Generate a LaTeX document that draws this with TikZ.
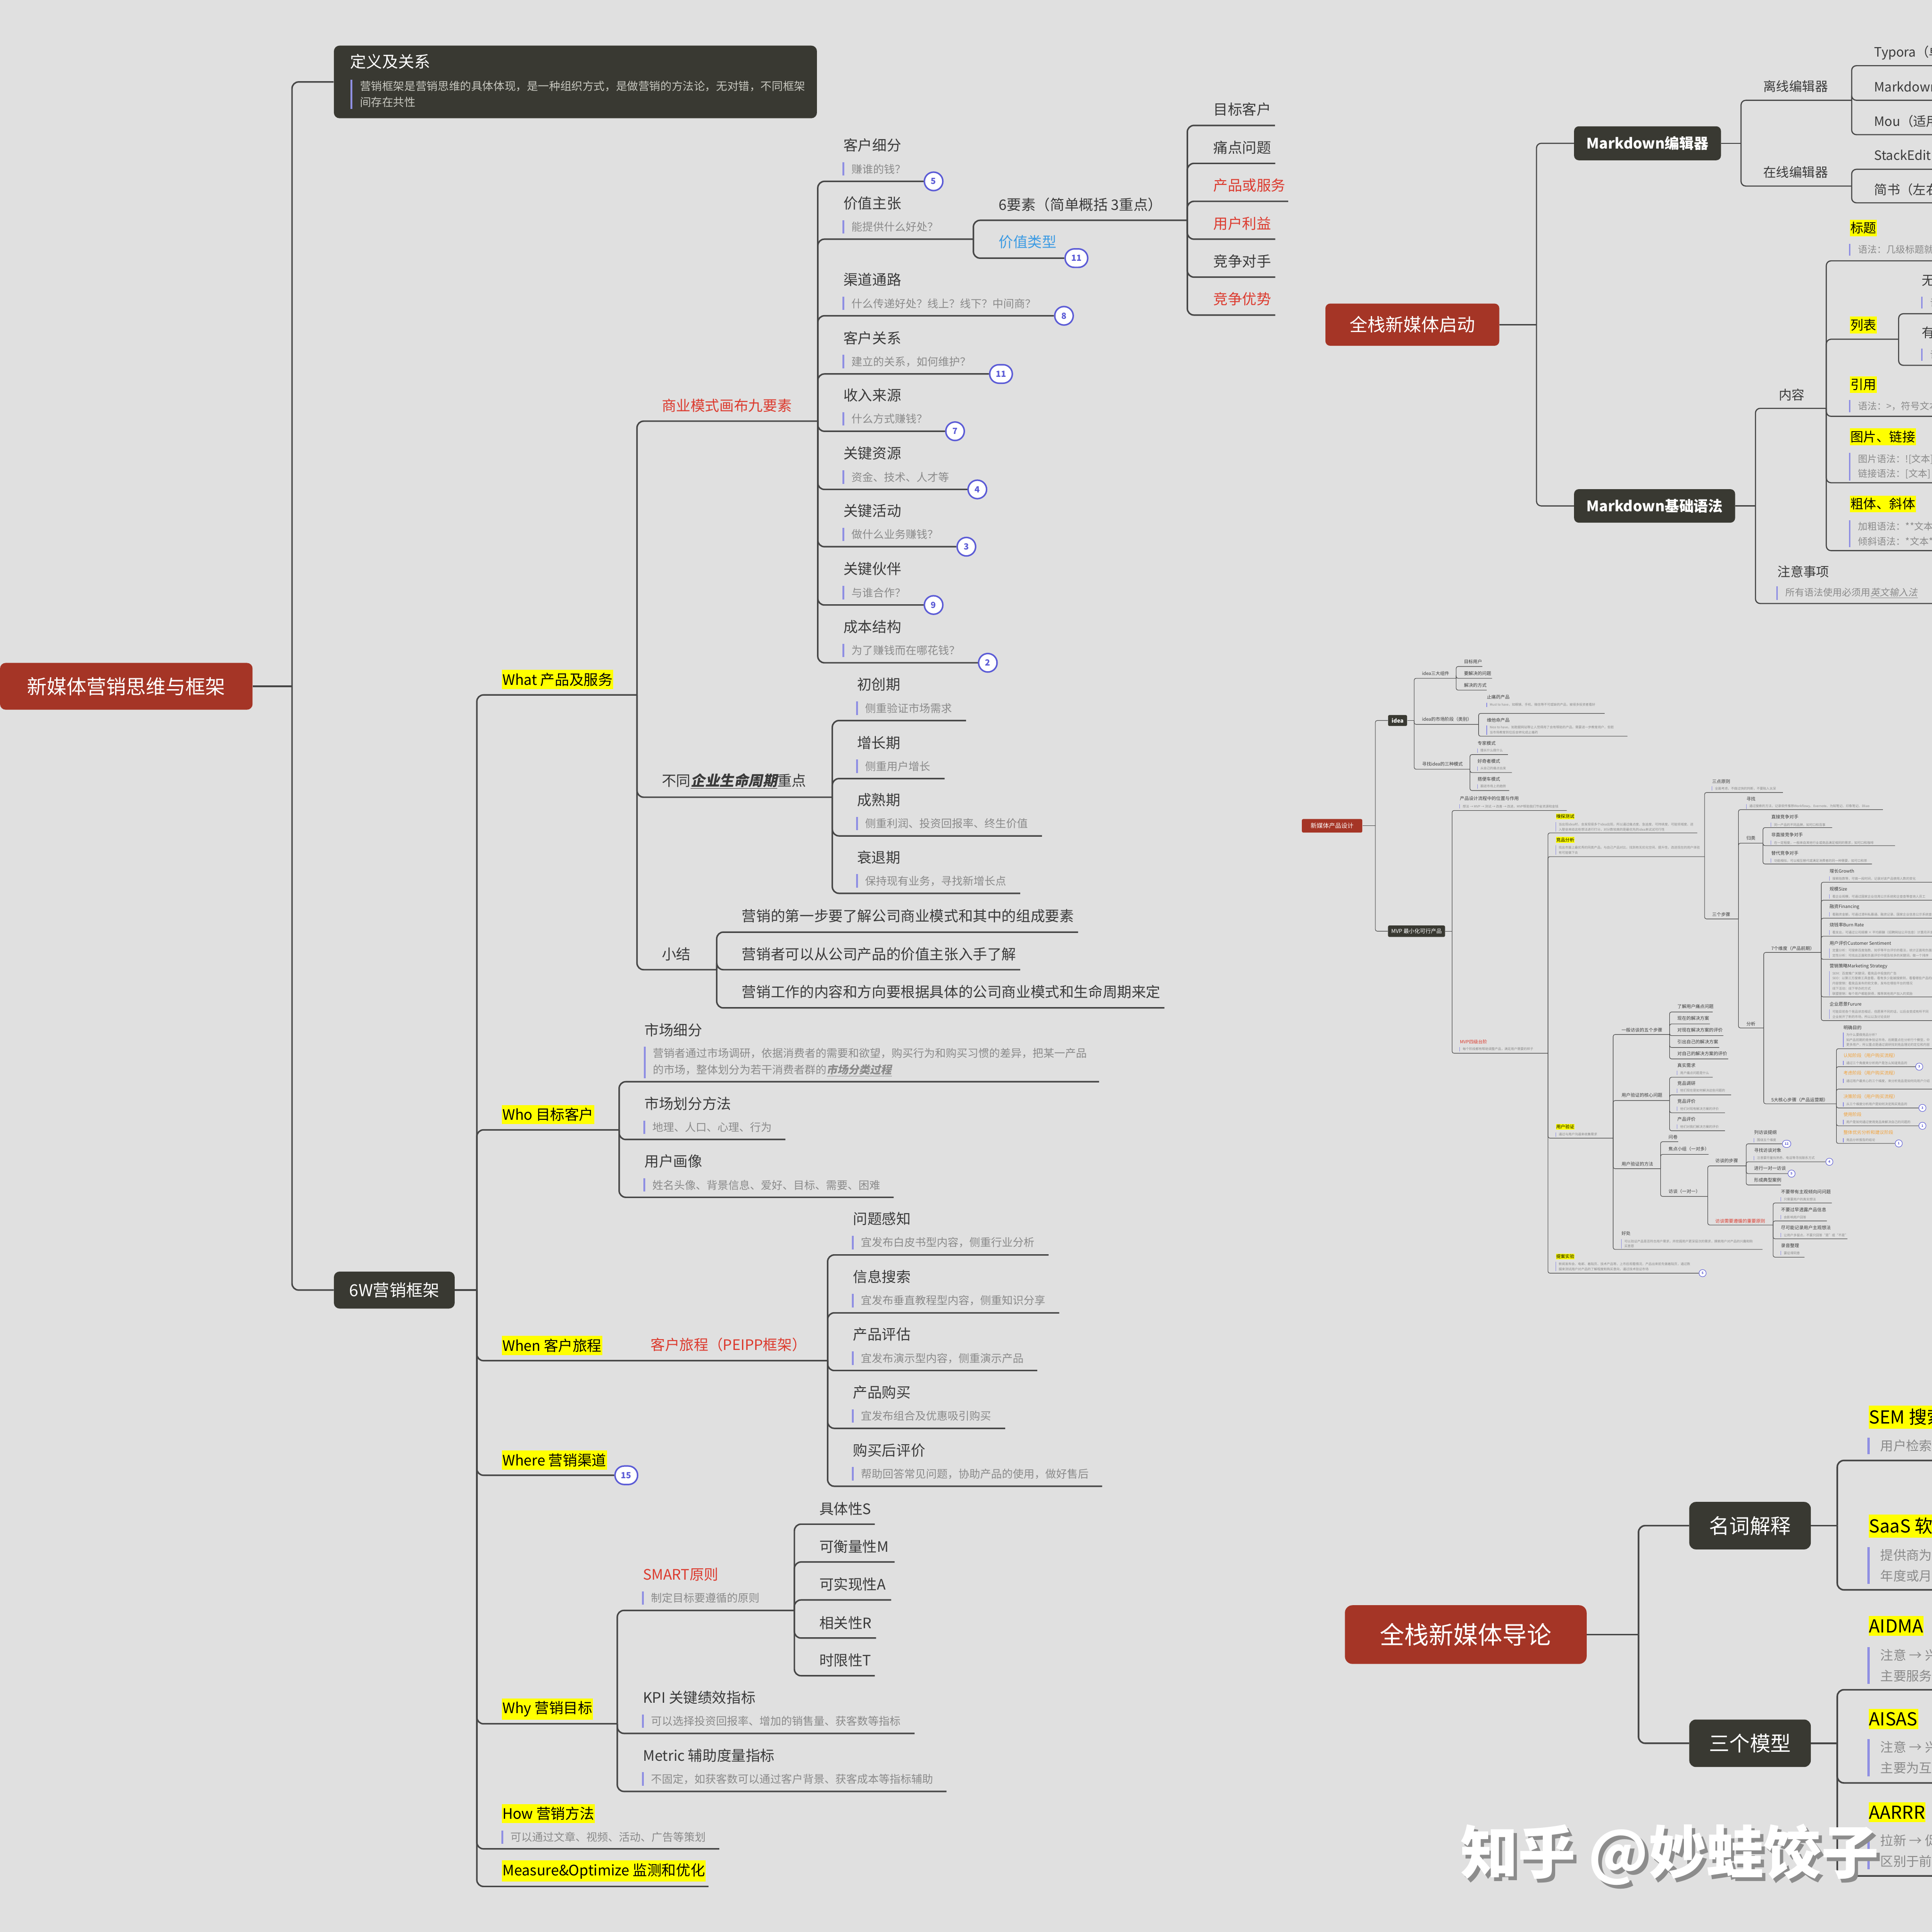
\documentclass[tikz,border=0pt]{standalone}
\usepackage{fontspec}
\setmainfont{Noto Sans CJK SC}
\newfontfamily\myslant{Noto Sans CJK SC}[FakeSlant=0.2]
\definecolor{bgc}{HTML}{E0E0E0}
\definecolor{lc}{HTML}{464646}
\definecolor{tc}{HTML}{3A3A3A}
\definecolor{ncol}{HTML}{8A8A8A}
\definecolor{barc}{HTML}{8F8FE3}
\definecolor{boxd}{HTML}{393932}
\definecolor{boxr}{HTML}{A53526}
\definecolor{redt}{HTML}{DC3A2E}
\definecolor{bluet}{HTML}{3C9BE3}
\definecolor{orgt}{HTML}{F2A23A}
\definecolor{bdgc}{HTML}{5B5BD6}
\definecolor{hlc}{HTML}{FFFF00}
\definecolor{defn}{HTML}{C8C8C0}
\definecolor{wmsh}{HTML}{8C8C8C}
\newcommand\mfT{\fontsize{15.3pt}{18pt}\selectfont}
\newcommand\mfN{\fontsize{11.5pt}{17.5pt}\selectfont}
\newcommand\mfB{\fontsize{9pt}{10pt}\selectfont}
\newcommand\mfRoot{\fontsize{21pt}{24pt}\selectfont}
\newcommand\mfDefT{\fontsize{17pt}{20pt}\selectfont}
\newcommand\mfDefN{\fontsize{11.8pt}{17pt}\selectfont}
\newcommand\mfSix{\fontsize{17.5pt}{20pt}\selectfont}
\newcommand\mfRS{\fontsize{19pt}{22pt}\selectfont}
\newcommand\mfMD{\fontsize{15.4pt}{18pt}\selectfont}
\newcommand\mfRT{\fontsize{13.7pt}{16pt}\selectfont}
\newcommand\mfRN{\fontsize{10pt}{15.8pt}\selectfont}
\newcommand\mfBR{\fontsize{26pt}{30pt}\selectfont}
\newcommand\mfBB{\fontsize{21.7pt}{25pt}\selectfont}
\newcommand\mfBT{\fontsize{19pt}{22pt}\selectfont}
\newcommand\mfBN{\fontsize{13.7pt}{22pt}\selectfont}
\newcommand\mfWM{\fontsize{61pt}{70pt}\selectfont}
\newcommand\mfST{\fontsize{4.8pt}{6pt}\selectfont}
\newcommand\mfSN{\fontsize{3.4pt}{5.4pt}\selectfont}
\newcommand\mfSR{\fontsize{6.5pt}{8pt}\selectfont}
\newcommand\mfSB{\fontsize{5.8pt}{7pt}\selectfont}
\newcommand\mfSBd{\fontsize{3.4pt}{4pt}\selectfont}
\tikzset{
 conn/.style={draw=lc,line width=1.6pt,rounded corners=7pt},
 rconn/.style={draw=lc,line width=1.2pt,rounded corners=5pt},
 bconn/.style={draw=lc,line width=1.7pt,rounded corners=7pt},
 sconn/.style={draw=lc,line width=0.55pt,rounded corners=2pt},
 bar/.style={draw=barc,line width=2pt},
 rbar/.style={draw=barc,line width=1.8pt},
 bbar/.style={draw=barc,line width=2.4pt},
 sbar/.style={draw=barc,line width=0.6pt},
 ttl/.style={anchor=west,inner sep=0pt,text=tc,font=\mfT},
 hlt/.style={ttl,fill=hlc,inner xsep=0.8pt,inner ysep=3pt,text=black},
 nt/.style={anchor=west,inner xsep=0pt,inner ysep=1.5pt,align=left,text=ncol,font=\mfN},
 rttl/.style={anchor=west,inner sep=0pt,text=tc,font=\mfRT},
 rhl/.style={rttl,fill=hlc,inner xsep=0.6pt,inner ysep=2.5pt,text=black},
 rnt/.style={nt,font=\mfRN},
 bhl/.style={anchor=west,inner xsep=0.6pt,inner ysep=3.5pt,fill=hlc,text=black,font=\mfBT},
 bnt/.style={nt,font=\mfBN,inner ysep=2pt},
 sttl/.style={anchor=west,inner sep=0pt,text=tc,font=\mfST},
 shl/.style={sttl,fill=hlc,inner xsep=0.3pt,inner ysep=0.8pt,text=black},
 snt/.style={nt,font=\mfSN,inner ysep=0.5pt},
 dbox/.style={fill=boxd,rounded corners=6pt,text=white,inner sep=0pt},
 rbox/.style={fill=boxr,rounded corners=6pt,text=white,inner sep=0pt},
 bdg/.style={draw=bdgc,fill=white,line width=1.6pt,text=bdgc,font=\mfB\bfseries,minimum size=19.6pt,rounded corners=9.8pt,inner sep=0pt},
 sbdg/.style={draw=bdgc,fill=white,line width=0.5pt,text=bdgc,font=\mfSBd\bfseries,minimum size=7.6pt,rounded corners=3.8pt,inner sep=0pt},
}
\newcommand\myNT[4]{\node[nt] (#1) at ({#2},{#3}) {#4};\draw[bar] ([xshift=-8.5pt]#1.north west) -- ([xshift=-8.5pt]#1.south west);}
\newcommand\myRN[4]{\node[rnt] (#1) at ({#2},{#3}) {#4};\draw[rbar] ([xshift=-8.9pt]#1.north west) -- ([xshift=-8.9pt]#1.south west);}
\newcommand\myBN[4]{\node[bnt] (#1) at ({#2},{#3}) {#4};\draw[bbar] ([xshift=-12.5pt]#1.north west) -- ([xshift=-12.5pt]#1.south west);}
\newcommand\mySN[4]{\node[snt] (#1) at ({#2},{#3}) {#4};\draw[sbar] ([xshift=-3pt]#1.north west) -- ([xshift=-3pt]#1.south west);}
\newcommand\myItem[6][]{\node[ttl,#1] (#2) at ({#3},{#4-29.2}) {#5};\myNT{#2n}{#3+6.6}{#4-10}{#6}}
\begin{document}
\begin{tikzpicture}[x=1.306pt,y=-1.306pt]
\useasboundingbox (0,0) rectangle (1568,1568);
\fill[bgc] (0,0) rectangle (1568,1568);
\clip (0,0) rectangle (1568,1568);

% ================= LEFT MAP =================
\node[rbox,minimum width=267.7pt,minimum height=49.6pt,font=\mfRoot] (root) at (102.5,557) {新媒体营销思维与框架};
\coordinate (jR) at (237,557);
\draw[conn] (root.east) -- (jR);
\node[dbox,minimum width=512pt,minimum height=77pt] (def) at (467,66.5) {};
\node[anchor=west,inner sep=0pt,text=white,font=\mfDefT] (defT) at (284,50) {定义及关系};
\node[nt,text=defn,font=\mfDefN] (defN) at (292,76.5) {营销框架是营销思维的具体体现，是一种组织方式，是做营销的方法论，无对错，不同框架\\间存在共性};
\draw[bar] ([xshift=-9pt]defN.north west) -- ([xshift=-9pt]defN.south west);
\draw[conn] (jR) |- (def.west);
\node[dbox,minimum width=128pt,minimum height=39.2pt,font=\mfSix] (six) at (320,1047) {6W营销框架};
\draw[conn] (jR) |- (six.west);
\coordinate (j6) at (387,1047);
\draw[conn] (six.east) -- (j6);

% What
\node[hlt] (what) at (407,551.5) {What 产品及服务};
\coordinate (jWhat) at (517,564);
\draw[conn] (j6) |- (jWhat);
\node[ttl,text=redt] (bmc) at (537,329) {商业模式画布九要素};
\coordinate (jBmc) at (663.7,341.8);
\draw[conn] (jWhat) |- (jBmc);

\myItem{ka}{684.4}{147.2}{客户细分}{赚谁的钱？}
\node[bdg] (b1) at (757.7,147.2) {5};
\draw[conn] (jBmc) |- (b1.west);
\myItem{kb}{684.4}{194.1}{价值主张}{能提供什么好处？}
\coordinate (jVP) at (790,194.1);
\draw[conn] (jBmc) |- (jVP);
\node[ttl] (vpa) at (810.5,166) {6要素（简单概括 3重点）};
\coordinate (j6e) at (963.6,178.8);
\draw[conn] (jVP) |- (j6e);
\node[ttl,text=bluet] (vpb) at (810.5,196.2) {价值类型};
\node[bdg,minimum width=24pt] (b11a) at (873.6,209.5) {11};
\draw[conn] (jVP) |- (b11a.west);
\node[ttl] (ea) at (984.6,88.6) {目标客户}; \coordinate (eae) at (1034.8,101.8); \draw[conn] (j6e) |- (eae);
\node[ttl] (eb) at (984.6,119.6) {痛点问题}; \coordinate (ebe) at (1035,132.6); \draw[conn] (j6e) |- (ebe);
\node[ttl,text=redt] (ec) at (984.6,150.6) {产品或服务}; \coordinate (ece) at (1045.5,163.4); \draw[conn] (j6e) |- (ece);
\node[ttl,text=redt] (ed) at (984.6,181.3) {用户利益}; \coordinate (ede) at (1035,194.1); \draw[conn] (j6e) |- (ede);
\node[ttl] (ee) at (984.6,212) {竞争对手}; \coordinate (eee) at (1035,224.9); \draw[conn] (j6e) |- (eee);
\node[ttl,text=redt] (ef) at (984.6,242.8) {竞争优势}; \coordinate (efe) at (1035,255.7); \draw[conn] (j6e) |- (efe);

\myItem{kc}{684.4}{256.3}{渠道通路}{什么传递好处？线上？线下？中间商？}
\node[bdg] (b3) at (863.5,256.3) {8}; \draw[conn] (jBmc) |- (b3.west);
\myItem{kd}{684.4}{303.5}{客户关系}{建立的关系，如何维护？}
\node[bdg,minimum width=24pt] (b4) at (812.4,303.5) {11}; \draw[conn] (jBmc) |- (b4.west);
\myItem{ke}{684.4}{350}{收入来源}{什么方式赚钱？}
\node[bdg] (b5) at (775.1,350) {7}; \draw[conn] (jBmc) |- (b5.west);
\myItem{kf}{684.4}{397.2}{关键资源}{资金、技术、人才等}
\node[bdg] (b6) at (793.2,397.2) {4}; \draw[conn] (jBmc) |- (b6.west);
\myItem{kg}{684.4}{443.7}{关键活动}{做什么业务赚钱？}
\node[bdg] (b7) at (784.3,443.7) {3}; \draw[conn] (jBmc) |- (b7.west);
\myItem{kh}{684.4}{491}{关键伙伴}{与谁合作？}
\node[bdg] (b8) at (757.7,491) {9}; \draw[conn] (jBmc) |- (b8.west);
\myItem{ki}{684.4}{537.9}{成本结构}{为了赚钱而在哪花钱？}
\node[bdg] (b9) at (801.7,537.9) {2}; \draw[conn] (jBmc) |- (b9.west);

\node[ttl] (life) at (537,634) {不同{\myslant\bfseries\underline{企业生命周期}}重点};
\coordinate (jLife) at (675.5,647);
\draw[conn] (jWhat) |- (jLife);
\myItem{la}{695.5}{584.8}{初创期}{侧重验证市场需求}
\coordinate (lae) at (784,584.8); \draw[conn] (jLife) |- (lae);
\myItem{lb}{695.5}{631.9}{增长期}{侧重用户增长}
\coordinate (lbe) at (766.6,631.9); \draw[conn] (jLife) |- (lbe);
\myItem{lc}{695.5}{678.4}{成熟期}{侧重利润、投资回报率、终生价值}
\coordinate (lce) at (845.7,678.4); \draw[conn] (jLife) |- (lce);
\myItem{ld}{695.5}{725}{衰退期}{保持现有业务，寻找新增长点}
\coordinate (lde) at (828,725); \draw[conn] (jLife) |- (lde);

\node[ttl] (sum) at (537,774.5) {小结};
\coordinate (jSum) at (581.7,787);
\draw[conn] (jWhat) |- (jSum);
\node[ttl] (sa) at (602,743.5) {营销的第一步要了解公司商业模式和其中的组成要素};
\coordinate (sae) at (875,756.5); \draw[conn] (jSum) |- (sae);
\node[ttl] (sb) at (602,774.5) {营销者可以从公司产品的价值主张入手了解};
\coordinate (sbe) at (828,787); \draw[conn] (jSum) |- (sbe);
\node[ttl] (sc) at (602,805) {营销工作的内容和方向要根据具体的公司商业模式和生命周期来定};
\coordinate (sce) at (945,818); \draw[conn] (jSum) |- (sce);

% Who
\node[hlt] (who) at (407,904.5) {Who 目标客户};
\coordinate (jWho) at (502.5,917);
\draw[conn] (j6) |- (jWho);
\node[ttl] (wa) at (523,835.8) {市场细分};
\myNT{wan}{529.9}{862.3}{营销者通过市场调研，依据消费者的需要和欲望，购买行为和购买习惯的差异，把某一产品\\的市场，整体划分为若干消费者群的{\myslant\bfseries\underline{市场分类过程}}}
\coordinate (wae) at (892,877.9); \draw[conn] (jWho) |- (wae);
\myItem{wb}{523}{924.8}{市场划分方法}{地理、人口、心理、行为}
\coordinate (wbe) at (637.4,924.8); \draw[conn] (jWho) |- (wbe);
\myItem{wc}{523}{971.7}{用户画像}{姓名头像、背景信息、爱好、目标、需要、困难}
\coordinate (wce) at (725.3,971.7); \draw[conn] (jWho) |- (wce);

% When
\node[hlt] (when) at (407,1092) {When 客户旅程};
\node[ttl,text=redt] (peipp) at (528,1091.5) {客户旅程（PEIPP框架）};
\coordinate (jWhen) at (671.7,1104.3);
\draw[conn] (j6) |- (jWhen);
\myItem{pa}{692.2}{1018.5}{问题感知}{宜发布白皮书型内容，侧重行业分析}
\coordinate (pae) at (851,1018.5); \draw[conn] (jWhen) |- (pae);
\myItem{pb}{692.2}{1065.5}{信息搜索}{宜发布垂直教程型内容，侧重知识分享}
\coordinate (pbe) at (859.6,1065.5); \draw[conn] (jWhen) |- (pbe);
\myItem{pc}{692.2}{1112.3}{产品评估}{宜发布演示型内容，侧重演示产品}
\coordinate (pce) at (841.8,1112.3); \draw[conn] (jWhen) |- (pce);
\myItem{pd}{692.2}{1159.2}{产品购买}{宜发布组合及优惠吸引购买}
\coordinate (pde) at (815.8,1159.2); \draw[conn] (jWhen) |- (pde);
\myItem{pe}{692.2}{1206.2}{购买后评价}{帮助回答常见问题，协助产品的使用，做好售后}
\coordinate (pee) at (894.5,1206.2); \draw[conn] (jWhen) |- (pee);

% Where
\node[hlt] (where) at (407,1185) {Where 营销渠道};
\node[bdg,minimum width=24pt] (b15) at (508.3,1197.3) {15};
\draw[conn] (j6) |- (b15.west);

% Why
\node[hlt] (why) at (407,1387) {Why 营销目标};
\coordinate (jWhy) at (501,1399);
\draw[conn] (j6) |- (jWhy);
\myItem[text=redt]{ya}{521.7}{1307}{SMART原则}{制定目标要遵循的原则}
\coordinate (jSM) at (644.7,1307); \draw[conn] (jWhy) |- (jSM);
\node[ttl] (ma) at (664.8,1224.5) {具体性S}; \coordinate (mae) at (710,1237); \draw[conn] (jSM) |- (mae);
\node[ttl] (mb) at (664.8,1255.3) {可衡量性M}; \coordinate (mbe) at (726,1267.7); \draw[conn] (jSM) |- (mbe);
\node[ttl] (mc) at (664.8,1285.8) {可实现性A}; \coordinate (mce) at (723.3,1298.5); \draw[conn] (jSM) |- (mce);
\node[ttl] (md) at (664.8,1317) {相关性R}; \coordinate (mde) at (711,1329.4); \draw[conn] (jSM) |- (mde);
\node[ttl] (me) at (664.8,1347.6) {时限性T}; \coordinate (mee) at (710,1360); \draw[conn] (jSM) |- (mee);
\myItem{yb}{521.7}{1406.8}{KPI 关键绩效指标}{可以选择投资回报率、增加的销售量、获客数等指标}
\coordinate (ybe) at (742.2,1406.8); \draw[conn] (jWhy) |- (ybe);
\myItem{yc}{521.7}{1453.9}{Metric 辅助度量指标}{不固定，如获客数可以通过客户背景、获客成本等指标辅助}
\coordinate (yce) at (768.2,1453.9); \draw[conn] (jWhy) |- (yce);

% How / Measure
\node[hlt] (how) at (407,1472) {How 营销方法};
\myNT{hown}{414.2}{1491}{可以通过文章、视频、活动、广告等策划}
\coordinate (howe) at (583.7,1500.5); \draw[conn] (j6) |- (howe);
\node[hlt] (meas) at (407,1518.5) {Measure\&Optimize 监测和优化};
\coordinate (mease) at (575,1531); \draw[conn] (j6) |- (mease);

% ================= RIGHT TOP MAP =================
\node[rbox,minimum width=184.3pt,minimum height=44.7pt,font=\mfRS,rounded corners=5pt] (rs) at (1146.25,263.5) {全栈新媒体启动};
\coordinate (jS) at (1247,263.5);
\draw[rconn] (rs.east) -- (jS);
\node[dbox,minimum width=155.7pt,minimum height=36pt,font=\mfMD\bfseries,rounded corners=5pt] (mda) at (1337.1,116.3) {Markdown编辑器};
\node[dbox,minimum width=170.7pt,minimum height=35.5pt,font=\mfMD\bfseries,rounded corners=5pt] (mdb) at (1342.85,410.6) {Markdown基础语法};
\draw[rconn] (jS) |- (mda.west);
\draw[rconn] (jS) |- (mdb.west);
\coordinate (jMa) at (1413,116.3);
\draw[rconn] (mda.east) -- (jMa);
\node[rttl] (off) at (1431,70) {离线编辑器};
\coordinate (jOff) at (1502.8,81.4); \draw[rconn] (jMa) |- (jOff);
\node[rttl] (oa) at (1521,42.7) {Typora（单}; \coordinate (oae) at (1575,53.3); \draw[rconn] (jOff) |- (oae);
\node[rttl] (ob) at (1521,70.3) {Markdown}; \coordinate (obe) at (1575,81.4); \draw[rconn] (jOff) |- (obe);
\node[rttl] (oc) at (1521,98.3) {Mou（适用}; \coordinate (oce) at (1575,109.3); \draw[rconn] (jOff) |- (oce);
\node[rttl] (onl) at (1431,139.6) {在线编辑器};
\coordinate (jOn) at (1502.8,151); \draw[rconn] (jMa) |- (jOn);
\node[rttl] (na) at (1521,125.7) {StackEdit}; \coordinate (nae) at (1575,137.4); \draw[rconn] (jOn) |- (nae);
\node[rttl] (nb) at (1521,154) {简书（左右}; \coordinate (nbe) at (1575,164.6); \draw[rconn] (jOn) |- (nbe);

\coordinate (jMb) at (1424.7,410.6);
\draw[rconn] (mdb.east) -- (jMb);
\node[rttl] (cont) at (1443.6,320.3) {内容};
\coordinate (jC) at (1482.2,331.4); \draw[rconn] (jMb) |- (jC);
\node[rhl] (ha) at (1501.3,185) {标题};
\myRN{han}{1508}{202.6}{语法：几级标题就}
\coordinate (hae) at (1575,211.7); \draw[rconn] (jC) |- (hae);
\node[rhl] (hb) at (1501.3,263.8) {列表};
\coordinate (jL) at (1540.9,275.3); \draw[rconn] (jC) |- (jL);
\node[rttl] (la1) at (1559.7,227.4) {无序列表};
\myRN{la1n}{1566.5}{245.6}{语法}
\coordinate (la1e) at (1575,254.6); \draw[rconn] (jL) |- (la1e);
\node[rttl] (la2) at (1559.7,269.8) {有序列表};
\myRN{la2n}{1566.5}{287.9}{语法}
\coordinate (la2e) at (1575,296.5); \draw[rconn] (jL) |- (la2e);
\node[rhl] (hc) at (1501.3,312.2) {引用};
\myRN{hcn}{1508}{329.7}{语法：>，符号文本}
\coordinate (hce) at (1575,337.9); \draw[rconn] (jC) |- (hce);
\node[rhl] (hd) at (1501.3,354.5) {图片、链接};
\myRN{hdn}{1508}{378.7}{图片语法：![文本]\\链接语法：[文本]}
\coordinate (hde) at (1575,391.8); \draw[rconn] (jC) |- (hde);
\node[rhl] (he) at (1501.3,409) {粗体、斜体};
\myRN{hen}{1508}{433.2}{加粗语法：**文本\\倾斜语法：*文本*}
\coordinate (hee) at (1575,446.9); \draw[rconn] (jC) |- (hee);
\node[rttl] (att) at (1442.5,463.9) {注意事项};
\myRN{attn}{1449}{481.4}{所有语法使用必须用{\myslant\underline{英文输入法}}}
\coordinate (atte) at (1575,489.8); \draw[rconn] (jMb) |- (atte);

% ================= MIDDLE SMALL MAP =================
\node[rbox,minimum width=64pt,minimum height=14.4pt,font=\mfSR,rounded corners=1.5pt] (sp) at (1081.1,670.2) {新媒体产品设计};
\coordinate (jP) at (1116.2,670.2);
\draw[sconn] (sp.east) -- (jP);
\node[dbox,minimum width=20.2pt,minimum height=11.6pt,font=\mfSB\bfseries,rounded corners=1.5pt] (sidea) at (1134.25,584.75) {idea};
\node[dbox,minimum width=60.5pt,minimum height=12.1pt,font=\mfSB,rounded corners=1.5pt] (smvp) at (1149.65,755.75) {MVP 最小化可行产品};
\draw[sconn] (jP) |- (sidea.west);
\draw[sconn] (jP) |- (smvp.west);
\coordinate (jId) at (1147.7,584.75);
\draw[sconn] (sidea.east) -- (jId);
\node[sttl] (ia) at (1154,546.5) {idea三大组件};
\coordinate (jIa) at (1181.8,550.5); \draw[sconn] (jId) |- (jIa);
\node[sttl] (iaa) at (1188,536.9) {目标用户}; \coordinate (iaae) at (1203,540.9); \draw[sconn] (jIa) |- (iaae);
\node[sttl] (iab) at (1188,546.5) {要解决的问题}; \coordinate (iabe) at (1211,550.5); \draw[sconn] (jIa) |- (iabe);
\node[sttl] (iac) at (1188,556.1) {解决的方式}; \coordinate (iace) at (1206.6,560.1); \draw[sconn] (jIa) |- (iace);
\node[sttl] (ib) at (1154,583.9) {idea的市场阶段（类别）};
\coordinate (jIb) at (1200,587.9); \draw[sconn] (jId) |- (jIb);
\node[sttl] (iba) at (1206.6,565.7) {止痛药产品};
\mySN{iban}{1208.9}{572}{Must to have，如眼镜、手机、微信等不可或缺的产品，被很多投资者看好}
\coordinate (ibae) at (1302.3,579); \draw[sconn] (jIb) |- (ibae);
\node[sttl] (ibb) at (1206.6,584.3) {维他命产品};
\mySN{ibbn}{1208.9}{592.5}{Nice to have，如跑腿网站等让人觉得用了会有帮助的产品，需要进一步教育用户，但若\\当市场教育到位后会转化成止痛药}
\coordinate (ibbe) at (1320.8,597.5); \draw[sconn] (jIb) |- (ibbe);
\node[sttl] (ic) at (1154,620) {寻找idea的三种模式};
\coordinate (jIc) at (1193,624.3); \draw[sconn] (jId) |- (jIc);
\node[sttl] (ica) at (1199,603.1) {专家模式}; \mySN{ican}{1201.3}{609.1}{擅长什么做什么}
\coordinate (icae) at (1223.8,612.4); \draw[sconn] (jIc) |- (icae);
\node[sttl] (icb) at (1199,617.7) {好奇者模式}; \mySN{icbn}{1201.3}{623.7}{从自己的痛点出发}
\coordinate (icbe) at (1227,627); \draw[sconn] (jIc) |- (icbe);
\node[sttl] (icc) at (1199,632.3) {搭便车模式}; \mySN{iccn}{1201.3}{638.2}{跟进市场上的趋势}
\coordinate (icce) at (1224.8,641.6); \draw[sconn] (jIc) |- (icce);

\coordinate (jMv) at (1178.5,755.75);
\draw[sconn] (smvp.east) -- (jMv);
\node[sttl] (va) at (1184.7,648.2) {产品设计流程中的位置与作用};
\mySN{van}{1187}{654.5}{想法 → MVP → 测试 → 改善 → 改进，MVP帮助我们节省资源和金钱}
\coordinate (vae) at (1271.5,657.8); \draw[sconn] (jMv) |- (vae);
\node[sttl,text=redt] (vb) at (1184.7,845.5) {MVP四级台阶};
\mySN{vbn}{1187}{851.5}{每个阶段都有帮助调整产品，满足用户需要的样子}
\coordinate (jVb) at (1256.3,854.8); \draw[sconn] (jMv) |- (jVb);

\node[shl] (xa) at (1262.6,662.7) {嗅探测试};
\mySN{xan}{1264.9}{671.2}{当出现idea时，会发现很多个idea出现，所以通过痛点度、急迫度、可持续度、可能领域度、进\\入壁垒来给这些想法进行打分，对分数较高的是最优先的idea来试试可行性}
\coordinate (xae) at (1377.5,676); \draw[sconn] (jVb) |- (xae);
\node[shl] (xb) at (1262.6,681.6) {竞品分析};
\mySN{xbn}{1264.9}{689.9}{找出市面上最优秀的同类产品，与自己产品对比，找到有无优化空间、提升性，改进现在的用户体验\\有可能做下去}
\coordinate (jXb) at (1383.4,695.2); \draw[sconn] (jVb) |- (jXb);
\node[sttl] (ca) at (1389.4,634.3) {三点原则};
\mySN{can}{1391.7}{639.9}{全面考虑，不做过快的判断，不要陷入太深}
\coordinate (cae) at (1447,643.2); \draw[sconn] (jXb) |- (cae);
\node[sttl] (cb) at (1389.4,742.2) {三个步骤};
\coordinate (jCb) at (1410.9,745.8); \draw[sconn] (jXb) |- (jCb);
\node[sttl] (cba) at (1417.2,648.5) {寻找};
\mySN{cban}{1419.5}{654.5}{通过搜索的方法，记录软件推荐Workflowy、Evernote、为知笔记、印象笔记、Dliao}
\coordinate (cbae) at (1528.1,657.1); \draw[sconn] (jCb) |- (cbae);
\node[sttl] (cbb) at (1417.2,680.3) {归类};
\coordinate (jCbb) at (1430.8,684.3); \draw[sconn] (jCb) |- (jCbb);
\node[sttl] (ga) at (1437.4,663.1) {直接竞争对手}; \mySN{gan}{1439.7}{669.4}{同一产品的不同品牌，如可口和百事}
\coordinate (gae) at (1487,671.7); \draw[sconn] (jCbb) |- (gae);
\node[sttl] (gb) at (1437.4,677.6) {非直接竞争对手}; \mySN{gbn}{1439.7}{684}{在一定程度，一般来自其他行业或商品满足相同的需求，如可口和咖啡}
\coordinate (gbe) at (1538,686.3); \draw[sconn] (jCbb) |- (gbe);
\node[sttl] (gc) at (1437.4,692.5) {替代竞争对手}; \mySN{gcn}{1439.7}{698.5}{功能相似，可以相互替代或满足消费者的同一种需要，如可口和茶}
\coordinate (gce) at (1519.2,701.2); \draw[sconn] (jCbb) |- (gce);
\node[sttl] (cbc) at (1417.2,831) {分析};
\coordinate (jCbc) at (1431.4,834.3); \draw[sconn] (jCb) |- (jCbc);
\node[sttl] (aa) at (1437.4,769.7) {7个维度（产品前期）};
\coordinate (jAa) at (1478.1,773); \draw[sconn] (jCbc) |- (jAa);
\node[sttl] (da) at (1484.7,706.8) {增长Growth}; \mySN{dan}{1487}{713.1}{搜索指数等，可做一段时间，记录对该产品使用人数的变化}
\coordinate (dae) at (1575,716); \draw[sconn] (jAa) |- (dae);
\node[sttl] (db) at (1484.7,721.4) {规模Size}; \mySN{dbn}{1487}{727.6}{看企业规模，可通过国家企业信用公示系统和企查查等查询人员工}
\coordinate (dbe) at (1575,730.6); \draw[sconn] (jAa) |- (dbe);
\node[sttl] (dc) at (1484.7,736.2) {融资Financing}; \mySN{dcn}{1487}{742.2}{看融资金额，可通过清科私募通、融资记录、国家企业信息公示系统查看}
\coordinate (dce) at (1575,745.2); \draw[sconn] (jAa) |- (dce);
\node[sttl] (dd) at (1484.7,750.8) {烧钱率Burn Rate}; \mySN{ddn}{1487}{756.8}{看支出，可通过公司规模 × 平均薪酬（招聘网站公开信息）计算月开支}
\coordinate (dde) at (1575,759.8); \draw[sconn] (jAa) |- (dde);
\node[sttl] (de) at (1484.7,765.4) {用户评价Customer Sentiment}; \mySN{den}{1487}{773.5}{定量分析：可搜索百度指数、知乎等平台评价的看法，统计正面和负面\\定性分析：可找出正面和负面评价中提及较多的关键词，做一个排序}
\coordinate (dee) at (1575,778.6); \draw[sconn] (jAa) |- (dee);
\node[sttl] (df) at (1484.7,784.3) {营销策略Marketing Strategy}; \mySN{dfn}{1487}{798.2}{SEM：百度推广关键词，看竞品中投放的广告\\SEO：以第三方搜索工具查看，看有多少能被搜索到，看看哪些产品的内容\\内容营销：看竞品发布的软文章，发布在哪些平台的情况\\线下活动：线下举办的方式\\联盟营销：每个用户都能获得，推荐其他用户加入的奖励}
\coordinate (dfe) at (1575,809.1); \draw[sconn] (jAa) |- (dfe);
\node[sttl] (dg) at (1484.7,815) {企业愿景Furure}; \mySN{dgn}{1487}{823.2}{可能目前各个竞品状态相近，但愿景不同的话，以后会变成有所不同\\企业就开了新的市场，所以以及讨论去好}
\coordinate (dge) at (1575,828.3); \draw[sconn] (jAa) |- (dge);
\node[sttl] (ab) at (1437.4,892.5) {5大核心步骤（产品运营期）};
\coordinate (jAb) at (1490.4,895.8); \draw[sconn] (jCbc) |- (jAb);
\node[sttl] (fa) at (1496,834) {明确目的}; \mySN{fan}{1498.3}{843.9}{为什么要做竞品分析？\\如产品前期的竞争验证市场，后期重点在分析行个模型，中\\更多用户，所以重点是通过调研找到竞品理论的定位和内容}
\coordinate (fae) at (1575,851.1); \draw[sconn] (jAb) |- (fae);
\node[sttl,text=orgt] (fb) at (1496,856.5) {认知阶段（用户购买流程）}; \mySN{fbn}{1498.3}{862.7}{通过三个角度来分析用户是怎么知道竞品的}
\node[sbdg] (sb1) at (1557.6,865.7) {3}; \draw[sconn] (jAb) |- (sb1.west);
\node[sttl,text=orgt] (fc) at (1496,871) {考虑阶段（用户购买流程）}; \mySN{fcn}{1498.3}{877.3}{通过用户最关心的三个维度，来分析竞品是如何向用户介绍}
\coordinate (fce) at (1575,883.9); \draw[sconn] (jAb) |- (fce);
\node[sttl,text=orgt] (fd) at (1496,889.9) {决策阶段（用户购买流程）}; \mySN{fdn}{1498.3}{896.2}{从三个维度分析用户是如何决定购买竞品的}
\node[sbdg] (sb2) at (1560.2,899.2) {3}; \draw[sconn] (jAb) |- (sb2.west);
\node[sttl,text=orgt] (fe) at (1496,904.5) {使用阶段}; \mySN{fen}{1498.3}{910.7}{用户是如何通过使用竞品来解决自己的问题的}
\node[sbdg] (sb3) at (1560.2,913.7) {1}; \draw[sconn] (jAb) |- (sb3.west);
\node[sttl,text=orgt] (ff) at (1496,919) {整体优劣分析和建议阶段}; \mySN{ffn}{1498.3}{925.3}{竞品分析报告的结论}
\node[sbdg] (sb4) at (1541,928) {1}; \draw[sconn] (jAb) |- (sb4.west);

\node[shl] (xc) at (1262.6,914.4) {用户验证};
\mySN{xcn}{1264.9}{920.7}{通过与用户沟通来收集需求}
\coordinate (jXc) at (1309.2,923.7); \draw[sconn] (jVb) |- (jXc);
\node[sttl] (ua) at (1315.9,835.9) {一般访谈的五个步骤};
\coordinate (jUa) at (1355,839.6); \draw[sconn] (jXc) |- (jUa);
\node[sttl] (uaa) at (1361.2,816.7) {了解用户痛点问题}; \coordinate (uaae) at (1390,821.3); \draw[sconn] (jUa) |- (uaae);
\node[sttl] (uab) at (1361.2,826.3) {现在的解决方案}; \coordinate (uabe) at (1387.7,831); \draw[sconn] (jUa) |- (uabe);
\node[sttl] (uac) at (1361.2,835.9) {对现在解决方案的评价}; \coordinate (uace) at (1398.6,840.5); \draw[sconn] (jUa) |- (uace);
\node[sttl] (uad) at (1361.2,845.5) {引出自己的解决方案}; \coordinate (uade) at (1395.3,850.1); \draw[sconn] (jUa) |- (uade);
\node[sttl] (uae) at (1361.2,855.1) {对自己的解决方案的评价}; \coordinate (uaee) at (1402.6,859.4); \draw[sconn] (jUa) |- (uaee);
\node[sttl] (ub) at (1315.9,888.9) {用户验证的核心问题};
\coordinate (jUb) at (1355,893.2); \draw[sconn] (jXc) |- (jUb);
\node[sttl] (uba) at (1361.2,864.7) {真实需求}; \mySN{uban}{1363.5}{870.7}{用户痛点问题是什么}
\coordinate (ubae) at (1390,874.3); \draw[sconn] (jUb) |- (ubae);
\node[sttl] (ubb) at (1361.2,879.3) {竞品调研}; \mySN{ubbn}{1363.5}{885.2}{他们现在是如何解决这些问题的}
\coordinate (ubbe) at (1405,888.6); \draw[sconn] (jUb) |- (ubbe);
\node[sttl] (ubc) at (1361.2,893.9) {竞品评价}; \mySN{ubcn}{1363.5}{899.8}{他们对现有解决方案的评价}
\coordinate (ubce) at (1400,903.1); \draw[sconn] (jUb) |- (ubce);
\node[sttl] (ubd) at (1361.2,908.4) {产品评价}; \mySN{ubdn}{1363.5}{914.4}{他们对我们解决方案的评价}
\coordinate (ubde) at (1400,917.7); \draw[sconn] (jUb) |- (ubde);
\node[sttl] (uc) at (1315.9,944.8) {用户验证的方法};
\coordinate (jUc) at (1347.7,948.5); \draw[sconn] (jXc) |- (jUc);
\node[sttl] (uca) at (1354,923) {问卷}; \coordinate (ucae) at (1362,926.6); \draw[sconn] (jUc) |- (ucae);
\node[sttl] (ucb) at (1354,932.6) {焦点小组（一对多）}; \coordinate (ucbe) at (1386.7,936.9); \draw[sconn] (jUc) |- (ucbe);
\node[sttl] (ucc) at (1354,967) {访谈（一对一）};
\coordinate (jUcc) at (1386,971); \draw[sconn] (jUc) |- (jUcc);
\node[sttl] (ta) at (1392,942.2) {访谈的步骤};
\coordinate (jTa) at (1417.2,946.2); \draw[sconn] (jUcc) |- (jTa);
\node[sttl] (taa) at (1423.5,919) {列访谈提纲}; \mySN{taan}{1425.8}{925.3}{围绕五个维度}
\node[sbdg,minimum width=9pt] (sb5) at (1450,928.3) {12}; \draw[sconn] (jTa) |- (sb5.west);
\node[sttl] (tab) at (1423.5,933.6) {寻找访谈对象}; \mySN{tabn}{1425.8}{939.9}{注意要尽量找熟悉，电话等寻找联系方式}
\node[sbdg] (sb6) at (1484.7,942.9) {4}; \draw[sconn] (jTa) |- (sb6.west);
\node[sttl] (tac) at (1423.5,948.1) {进行一对一访谈};
\node[sbdg] (sb7) at (1454,952.5) {5}; \draw[sconn] (jTa) |- (sb7.west);
\node[sttl] (tad) at (1423.5,957.7) {形成典型案例}; \coordinate (tade) at (1445.3,961.7); \draw[sconn] (jTa) |- (tade);
\node[sttl,text=redt] (tb) at (1392,991.2) {访谈需要遵循的重要原则};
\coordinate (jTb) at (1439,994.2); \draw[sconn] (jUcc) |- (jTb);
\node[sttl] (ra) at (1445.3,967.4) {不要带有主观倾向问问题}; \mySN{ran}{1447.6}{973.3}{只需要用户的真实想法}
\coordinate (rae) at (1486.7,976.3); \draw[sconn] (jTb) |- (rae);
\node[sttl] (rb) at (1445.3,982) {不要过早透露产品信息}; \mySN{rbn}{1447.6}{987.9}{会影响用户回答}
\coordinate (rbe) at (1482.7,990.9); \draw[sconn] (jTb) |- (rbe);
\node[sttl] (rc) at (1445.3,996.5) {尽可能记录用户主观想法}; \mySN{rcn}{1447.6}{1002.5}{让用户多留点，不要只回答“是”或“不是”}
\coordinate (rce) at (1499.3,1005.4); \draw[sconn] (jTb) |- (rce);
\node[sttl] (rd) at (1445.3,1011.1) {录音整理}; \mySN{rdn}{1447.6}{1017}{要征得同意}
\coordinate (rde) at (1464.5,1020.3); \draw[sconn] (jTb) |- (rde);
\node[sttl] (ud) at (1315.9,1001.1) {好处};
\mySN{udn}{1318.2}{1009.4}{可以验证产品是否符合用户需求，并挖掘用户更深层次的需求，摸索用户对产品的兴趣和购\\买意愿}
\coordinate (ude) at (1430.4,1014); \draw[sconn] (jXc) |- (ude);
\node[shl] (xd) at (1262.6,1019.7) {提案实验};
\mySN{xdn}{1264.9}{1028}{新闻发布会、电邮、着陆页、技术产品等，上市后观看情况，产品出来前先做着陆页，通过数\\据来测试用户对产品的了解程度和购买意向，通过技术验证市场}
\node[sbdg] (sb8) at (1381.8,1033.3) {5}; \draw[sconn] (jVb) |- (sb8.west);

% ================= BOTTOM RIGHT MAP =================
\node[rbox,minimum width=256.2pt,minimum height=62.2pt,font=\mfBR,rounded corners=8pt] (br) at (1189.6,1326.6) {全栈新媒体导论};
\coordinate (jI) at (1329.8,1326.6);
\draw[bconn] (br.east) -- (jI);
\node[dbox,minimum width=128.8pt,minimum height=50.3pt,font=\mfBB,rounded corners=7pt] (nn) at (1420.3,1238.2) {名词解释};
\node[dbox,minimum width=128.8pt,minimum height=50.3pt,font=\mfBB,rounded corners=7pt] (mm) at (1420.3,1414.8) {三个模型};
\draw[bconn] (jI) |- (nn.west);
\draw[bconn] (jI) |- (mm.west);
\coordinate (jN) at (1491.1,1238.2); \draw[bconn] (nn.east) -- (jN);
\coordinate (jMo) at (1491.1,1414.8); \draw[bconn] (mm.east) -- (jMo);
\node[bhl] (sem) at (1516.4,1150) {SEM 搜索};
\myBN{semn}{1526}{1173.5}{用户检索}
\coordinate (seme) at (1575,1185.3); \draw[bconn] (jN) |- (seme);
\node[bhl] (saas) at (1516.4,1238.5) {SaaS 软件};
\myBN{saasn}{1526}{1270.6}{提供商为\\年度或月}
\coordinate (saase) at (1575,1290.3); \draw[bconn] (jN) |- (saase);
\node[bhl] (aidma) at (1516.4,1319.7) {AIDMA};
\myBN{aidman}{1526}{1351.8}{注意 → 兴\\主要服务}
\coordinate (aidmae) at (1575,1371.4); \draw[bconn] (jMo) |- (aidmae);
\node[bhl] (aisas) at (1516.4,1395.2) {AISAS};
\myBN{aisasn}{1526}{1426.5}{注意 → 兴\\主要为互}
\coordinate (aisase) at (1575,1447); \draw[bconn] (jMo) |- (aisase);
\node[bhl] (aarrr) at (1516.4,1470.8) {AARRR};
\myBN{aarrrn}{1526}{1502.1}{拉新 → 促\\区别于前}
\coordinate (aarrre) at (1575,1522.5); \draw[bconn] (jMo) |- (aarrre);

% watermark
\node[font=\mfWM\bfseries,text=wmsh,inner sep=0pt] (wms) at (1358,1508) {知乎 @妙蛙饺子};
\node[font=\mfWM\bfseries,text=white,inner sep=0pt] (wm) at (1355,1505) {知乎 @妙蛙饺子};
\end{tikzpicture}
\end{document}
